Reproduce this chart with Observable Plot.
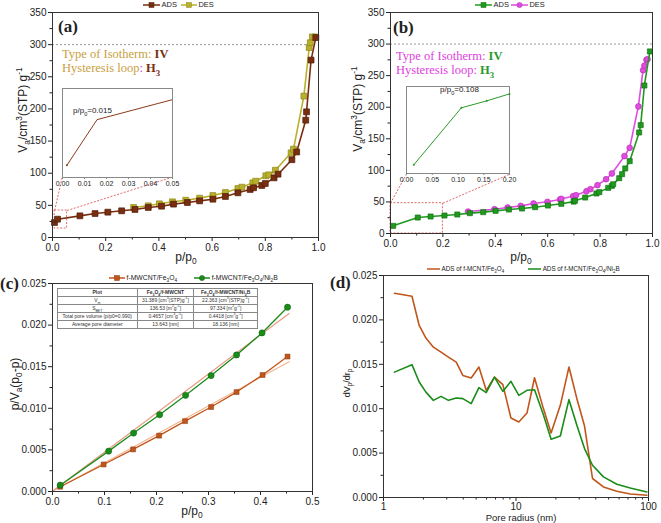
<!DOCTYPE html>
<html><head><meta charset="utf-8">
<script src="https://cdn.jsdelivr.net/npm/d3@7"></script>
<script src="https://cdn.jsdelivr.net/npm/@observablehq/plot@0.6"></script>
<style>
body{margin:0;background:#fff;}
#fig{position:relative;width:661px;height:523px;overflow:hidden;font-family:"Liberation Sans",Arial,sans-serif;color:#222;}
.ov{position:absolute;white-space:nowrap;line-height:1;}
.ser{font-family:"Liberation Serif","Times New Roman",serif;}
.tbl{position:absolute;border-collapse:collapse;background:#fff;font-family:"Liberation Sans",Arial,sans-serif;font-size:5px;color:#333;}
.tbl td{border:0.8px solid #888;padding:0;height:7px;text-align:center;line-height:1;}
sub,sup{font-size:70%;line-height:0;}
</style></head><body><div id="fig"></div>
<script>
// ---------- DATA ----------
// (a) f-MWCNT/Fe3O4 isotherm
const aAdsP = [0.0075,0.019,0.103,0.16,0.208,0.26,0.31,0.36,0.41,0.455,0.507,0.553,0.603,0.65,0.697,0.743,0.756,0.787,0.8,0.833,0.848,0.9,0.918,0.952,0.955,0.972,0.99];
const aAdsV = [23.3,28.5,33.7,37.3,39.4,41.5,43.6,46.7,48.7,51.9,54.4,57,59.6,63.8,69.5,74.7,77.3,80.9,84,92.8,98.5,121,133,182.5,195.5,276,311];
const aDesP = [0.305,0.36,0.402,0.451,0.501,0.553,0.603,0.65,0.697,0.712,0.753,0.764,0.802,0.813,0.838,0.897,0.906,0.945,0.965,0.969,0.977,0.987];
const aDesV = [46.7,49.3,52.4,55.5,58,61.2,65.3,70,76.2,78.3,85,87.6,96,97.5,104.7,131.7,137.4,220,295.5,303,312,312];
const aInsetP = [0.002,0.0157,0.05];
const aInsetV = [24.1,28.2,30.0];
// (b) f-MWCNT/Fe3O4/Ni2B isotherm
const bAdsP = [0.0102,0.104,0.153,0.206,0.255,0.303,0.354,0.401,0.452,0.502,0.552,0.601,0.652,0.699,0.704,0.743,0.786,0.797,0.831,0.845,0.85,0.873,0.884,0.896,0.913,0.949,0.955,0.969,0.99];
const bAdsV = [12.1,25.3,26.9,28.5,30.1,32.2,33.8,35.9,38,39.6,41.7,44.3,47,50.5,52,57,63.4,65.5,72.3,75.5,78,87.6,94,103,114.6,160,171.6,234.4,288.3];
const bDesP = [0.296,0.397,0.447,0.497,0.546,0.599,0.647,0.652,0.697,0.708,0.748,0.763,0.79,0.823,0.845,0.893,0.913,0.946,0.964,0.969,0.977,0.981];
const bDesV = [34.8,38.5,41.2,43.8,47.5,50.2,53.9,54.9,59.1,60.7,67,70.2,76.6,86,95,122.5,135.7,201.2,258.7,266,275,276];
const bInsetP = [0.0142,0.1065,0.156,0.2];
const bInsetV = [12.0,25.1,26.7,28.3];
// reference / zoom annotations (data units)
const refV = 300;
// (c) BET plots
const cFeP = [0.0148,0.0983,0.155,0.205,0.255,0.305,0.354,0.404,0.452];
const cFeY = [0.00057,0.00325,0.00506,0.00671,0.00846,0.01015,0.01195,0.0140,0.01622];
const cNiP = [0.0148,0.108,0.156,0.206,0.256,0.305,0.354,0.403,0.452];
const cNiY = [0.00076,0.00485,0.00702,0.00923,0.01156,0.01393,0.01641,0.01906,0.02215];
const cFitP = [0,0.455];
const cFeFit = [0.00002,0.0156];
const cNiFit = [0.00002,0.0214];
// (d) pore size distribution
const dR = [1.21,1.64,1.86,2.09,2.38,2.72,3.09,3.54,3.97,4.59,5.25,5.96,6.88,7.96,9.16,10.5,12.1,13.8,16.1,18.4,21.6,25.1,28.8,32.9,37.8,45.7,57.7,72.8,97.3];
const dFe = [0.0230,0.02267,0.01937,0.01795,0.01693,0.01637,0.01581,0.01525,0.01375,0.01345,0.01469,0.01207,0.01356,0.01271,0.00895,0.0085,0.00951,0.01349,0.01001,0.00726,0.01038,0.01469,0.01113,0.00805,0.00214,0.00119,0.00071,0.0004,0.00026];
const dNi = [0.01412,0.01496,0.013,0.01187,0.01094,0.01139,0.01094,0.0112,0.01113,0.01057,0.01237,0.01181,0.01356,0.01195,0.01308,0.0115,0.01207,0.01214,0.00933,0.00656,0.00693,0.01102,0.00813,0.00551,0.00363,0.00232,0.0015,0.00108,0.00063];
// tick values
const tickAx = [0,0.2,0.4,0.6,0.8,1.0], tickAxMinor = [0.1,0.3,0.5,0.7,0.9];
const tickAy = [0,50,100,150,200,250,300,350], tickAyMinor = [25,75,125,175,225,275,325];
const tickInA = [0,0.01,0.02,0.03,0.04,0.05];
const tickInB = [0,0.05,0.1,0.15,0.2];
const tickCx = [0,0.1,0.2,0.3,0.4,0.5], tickCxMinor = [0.05,0.15,0.25,0.35,0.45];
const tickCy = [0,0.005,0.01,0.015,0.02,0.025], tickCyMinor = [0.0025,0.0075,0.0125,0.0175,0.0225];
const tickDx = [1,10,100], tickDxMinor = [2,3,4,5,6,7,8,9,20,30,40,50,60,70,80,90];

// colours
const C = {aAds:"#7a2e10", aDes:"#b8b02c", bAds:"#1f9a1f", bDes:"#e04ce0",
           fe:"#c0561a", ni:"#1a8c1a", feFit:"#f2b48e", niFit:"#e89a86", red:"#e06a6a", ref:"#9a9a9a"};

const zip = (xs, ys) => xs.map((x,i)=>({x, y: ys[i]}));
const fig = document.getElementById("fig");
function place(node, left, top){ node.style.position="absolute"; node.style.left=left+"px"; node.style.top=top+"px"; fig.appendChild(node); }
function ov(left, top, inner, css=""){ const d=document.createElement("div"); d.className="ov"; d.style.cssText += `left:${left}px;top:${top}px;${css}`; d.innerHTML=inner; fig.appendChild(d); return d; }

const baseStyle = {fontSize:"10px", fontFamily:"'Liberation Sans', Arial, sans-serif", color:"#222", background:"transparent", overflow:"visible"};
function axes(xMaj, xMin, yMaj, yMin, xFmt, yFmt, xPad=2){
  return [
    Plot.axisX(xMin, {tickSize:2.5, tickFormat:()=>"", label:null}),
    Plot.axisX(xMaj, {tickSize:4, tickPadding:xPad, tickFormat:xFmt, label:null}),
    Plot.axisY(yMin, {tickSize:2.5, tickFormat:()=>"", label:null}),
    Plot.axisY(yMaj, {tickSize:4, tickPadding:2, tickFormat:yFmt, label:null}),
    Plot.frame({stroke:"#333", strokeWidth:1})
  ];
}
const f1 = d3.format(".1f"), f0 = d3.format("d"), f3 = d3.format(".3f"), f2 = d3.format(".2f");

// ---------- PANEL (a) ----------
const aAds = zip(aAdsP, aAdsV), aDes = zip(aDesP, aDesV);
const boxA = {x1:0.008, x2:0.055, y1:14, y2:42};
const linkA = [{x1:boxA.x1, y1:boxA.y2, x2:0.0365, y2:93.8},{x1:boxA.x2, y1:boxA.y2, x2:0.45, y2:93.8}];
place(Plot.plot({width:330, height:262, marginLeft:52, marginRight:12, marginTop:12, marginBottom:25,
  x:{domain:[0,1]}, y:{domain:[0,350]}, style:baseStyle,
  marks:[
    Plot.ruleY([refV], {x1:0, x2:0.975, stroke:C.ref, strokeDasharray:"2,2"}),
    Plot.rect([boxA], {x1:"x1", x2:"x2", y1:"y1", y2:"y2", fill:"none", stroke:C.red, strokeDasharray:"2,1.5"}),
    Plot.link(linkA, {x1:"x1", y1:"y1", x2:"x2", y2:"y2", stroke:C.red, strokeDasharray:"2,1.5"}),
    Plot.line(aDes, {x:"x", y:"y", stroke:C.aDes, strokeWidth:1.6}),
    Plot.dot(aDes, {x:"x", y:"y", symbol:"square", r:3.3, fill:C.aDes, stroke:"#8d8618", strokeWidth:0.7}),
    Plot.line(aAds, {x:"x", y:"y", stroke:C.aAds, strokeWidth:1.6}),
    Plot.dot(aAds, {x:"x", y:"y", symbol:"square", r:3.3, fill:C.aAds, stroke:"#4e1a06", strokeWidth:0.7}),
    ...axes(tickAx, tickAxMinor, tickAy, tickAyMinor, f1, f0)
  ]}), 0, 0);

// inset (a)
place(Plot.plot({width:126, height:103, marginLeft:8, marginRight:8, marginTop:1, marginBottom:13,
  x:{domain:[0,0.05]}, y:{domain:[23,31], axis:null}, style:{...baseStyle, fontSize:"7px"},
  marks:[
    Plot.frame({fill:"white", stroke:"#888"}),
    Plot.line(zip(aInsetP,aInsetV), {x:"x", y:"y", stroke:"#8b3a1a", strokeWidth:1, clip:true}),
    Plot.dot(zip(aInsetP,aInsetV).slice(0,1), {x:"x", y:"y", r:1, fill:"#8b3a1a"}),
    Plot.axisX(tickInA, {tickSize:2, tickPadding:1.5, tickFormat:f2, label:null, stroke:"#888"})
  ]}), 54, 87);

// ---------- PANEL (b) ----------
const bAds = zip(bAdsP, bAdsV), bDes = zip(bDesP, bDesV);
const boxB = {x1:0, x2:0.2, y1:0, y2:48};
const linkB = [{x1:boxB.x1, y1:boxB.y2, x2:0.061, y2:94},{x1:boxB.x2, y1:boxB.y2, x2:0.456, y2:94}];
place(Plot.plot({width:331, height:262, marginLeft:60, marginRight:9, marginTop:12, marginBottom:29,
  x:{domain:[0,1]}, y:{domain:[0,350]}, style:baseStyle,
  marks:[
    Plot.ruleY([refV], {x1:0, x2:1, stroke:C.ref, strokeDasharray:"2,2"}),
    Plot.rect([boxB], {x1:"x1", x2:"x2", y1:"y1", y2:"y2", fill:"none", stroke:C.red, strokeDasharray:"2,1.5"}),
    Plot.link(linkB, {x1:"x1", y1:"y1", x2:"x2", y2:"y2", stroke:C.red, strokeDasharray:"2,1.5"}),
    Plot.line(bDes, {x:"x", y:"y", stroke:C.bDes, strokeWidth:1.6}),
    Plot.dot(bDes, {x:"x", y:"y", r:2.9, fill:C.bDes, stroke:"#b02ab0", strokeWidth:0.6}),
    Plot.line(bAds, {x:"x", y:"y", stroke:C.bAds, strokeWidth:1.6}),
    Plot.dot(bAds, {x:"x", y:"y", symbol:"square", r:2.9, fill:C.bAds, stroke:"#0f6a0f", strokeWidth:0.6}),
    ...axes(tickAx, tickAxMinor, tickAy, tickAyMinor, f1, f0)
  ]}), 330, 0);

// inset (b)
place(Plot.plot({width:119, height:101, marginLeft:8, marginRight:8, marginTop:1, marginBottom:13,
  x:{domain:[0,0.2]}, y:{domain:[10,30], axis:null}, style:{...baseStyle, fontSize:"7px"},
  marks:[
    Plot.frame({fill:"white", stroke:"#888"}),
    Plot.line(zip(bInsetP,bInsetV), {x:"x", y:"y", stroke:"#2a9a2a", strokeWidth:1}),
    Plot.dot(zip(bInsetP,bInsetV), {x:"x", y:"y", r:1, fill:"#2a9a2a"}),
    Plot.axisX(tickInB, {tickSize:2, tickPadding:1.5, tickFormat:f2, label:null, stroke:"#888"})
  ]}), 398, 85);

// ---------- PANEL (c) ----------
const cFe = zip(cFeP, cFeY), cNi = zip(cNiP, cNiY);
place(Plot.plot({width:330, height:261, marginLeft:52, marginRight:18, marginTop:21, marginBottom:32,
  x:{domain:[0,0.5]}, y:{domain:[0,0.025]}, style:baseStyle,
  marks:[
    Plot.line(zip(cFitP,cFeFit), {x:"x", y:"y", stroke:C.feFit, strokeWidth:1.2}),
    Plot.line(zip(cFitP,cNiFit), {x:"x", y:"y", stroke:C.niFit, strokeWidth:1.2}),
    Plot.line(cFe, {x:"x", y:"y", stroke:C.fe, strokeWidth:1.3}),
    Plot.dot(cFe, {x:"x", y:"y", symbol:"square", r:2.8, fill:C.fe, stroke:"#8a3a10", strokeWidth:0.5}),
    Plot.line(cNi, {x:"x", y:"y", stroke:C.ni, strokeWidth:1.3}),
    Plot.dot(cNi, {x:"x", y:"y", r:3.1, fill:C.ni, stroke:"#0d5e0d", strokeWidth:0.5}),
    ...axes(tickCx, tickCxMinor, tickCy, tickCyMinor, f1, f3)
  ]}), 0, 262);

// ---------- PANEL (d) ----------
place(Plot.plot({width:331, height:261, marginLeft:53, marginRight:13, marginTop:13, marginBottom:26,
  x:{type:"log", domain:[1,100]}, y:{domain:[0,0.025]}, style:baseStyle,
  marks:[
    Plot.line(zip(dR,dFe), {x:"x", y:"y", stroke:C.fe, strokeWidth:1.6}),
    Plot.line(zip(dR,dNi), {x:"x", y:"y", stroke:C.ni, strokeWidth:1.6}),
    ...axes(tickDx, tickDxMinor, tickCy, tickCyMinor, f0, f3, 1)
  ]}), 330, 262);

// ---------- TEXT OVERLAYS ----------
const cen = "transform:translate(-50%,-50%);";
const rot = "transform:translate(-50%,-50%) rotate(-90deg);";
// axis titles
ov(186, 257, "p/p<sub>0</sub>", cen+"font-size:12px;");
ov(521, 257, "p/p<sub>0</sub>", cen+"font-size:12px;");
ov(192, 511, "p/p<sub>0</sub>", cen+"font-size:12px;");
ov(521, 517.5, "Pore radius (nm)", cen+"font-size:9.5px;");
ov(23, 110, "V<sub>a</sub>/cm<sup>3</sup>(STP) g<sup>-1</sup>", rot+"font-size:12px;");
ov(358, 109, "V<sub>a</sub>/cm<sup>3</sup>(STP) g<sup>-1</sup>", rot+"font-size:12px;");
ov(15, 384, "p/V<sub>a</sub>(p<sub>0</sub>-p)", rot+"font-size:12px;");
ov(347, 383, "dV<sub>p</sub>/dr<sub>p</sub>", rot+"font-size:9px;");
// panel letters
const pl = "font-weight:bold;font-size:17px;";
ov(58, 18, "(a)", pl).classList.add("ser");
ov(393, 19, "(b)", pl).classList.add("ser");
ov(0, 275, "(c)", pl).classList.add("ser");
ov(330, 274, "(d)", pl).classList.add("ser");
// isotherm annotations
ov(62, 48, `<span style="color:#c8a040">Type of Isotherm: </span><b style="color:${C.aAds}">IV</b>`, "font-size:12.5px;").classList.add("ser");
ov(62, 62, `<span style="color:#c8a040">Hysteresis loop</span><span style="color:#d040d0">:</span> <b style="color:${C.aAds}">H<sub>3</sub></b>`, "font-size:12.5px;").classList.add("ser");
ov(396, 50, `<span style="color:#e040e0">Type of Isotherm: </span><b style="color:#2a9a2a">IV</b>`, "font-size:12.5px;").classList.add("ser");
ov(396, 64, `<span style="color:#e040e0">Hysteresis loop: </span><b style="color:#2a9a2a">H<sub>3</sub></b>`, "font-size:12.5px;").classList.add("ser");
// inset labels
ov(73, 107, "p/p<sub>0</sub>=0.015", "font-size:8px;");
ov(440, 86, "p/p<sub>0</sub>=0.108", "font-size:8px;");

// legends
function swatch(len, color, sym, stroke){
  const m = sym==="square" ? `<rect x="${len/2-2.5}" y="1.5" width="5" height="5" fill="${color}" stroke="${stroke}" stroke-width="0.5"/>`
          : sym==="circle" ? `<circle cx="${len/2}" cy="4" r="2.6" fill="${color}" stroke="${stroke}" stroke-width="0.5"/>` : "";
  return `<svg width="${len}" height="8" style="vertical-align:middle"><line x1="0" x2="${len}" y1="4" y2="4" stroke="${color}" stroke-width="1.5"/>${m}</svg>`;
}
function legend(left, top, items, fs){
  ov(left, top, items.map(it=>`<span style="display:inline-flex;align-items:center;margin-right:${it.gap}px">${swatch(it.len,it.color,it.sym,it.stroke)}<span style="margin-left:1.5px">${it.label}</span></span>`).join(""), `font-size:${fs}px;display:flex;align-items:center;height:8px;transform:translateY(-50%);`);
}
legend(143, 5, [{len:17,color:C.aAds,sym:"square",stroke:"#4e1a06",label:"ADS",gap:4},{len:16,color:C.aDes,sym:"square",stroke:"#8d8618",label:"DES",gap:0}], 7.5);
legend(475, 5, [{len:17,color:C.bAds,sym:"square",stroke:"#0f6a0f",label:"ADS",gap:2},{len:17,color:C.bDes,sym:"circle",stroke:"#b02ab0",label:"DES",gap:0}], 7.5);
legend(109, 278, [{len:16,color:C.fe,sym:"square",stroke:"#8a3a10",label:"f-MWCNT/Fe<sub>3</sub>O<sub>4</sub>",gap:17},{len:16,color:C.ni,sym:"circle",stroke:"#0d5e0d",label:"f-MWCNT/Fe<sub>3</sub>O<sub>4</sub>/Ni<sub>2</sub>B",gap:0}], 6.8);
legend(427, 269, [{len:13,color:C.fe,sym:"",label:"ADS of f-MCNT/Fe<sub>3</sub>O<sub>4</sub>",gap:24},{len:13,color:C.ni,sym:"",label:"ADS of f-MCNT/Fe<sub>3</sub>O<sub>4</sub>/Ni<sub>2</sub>B",gap:0}], 6.3);

// table in (c)
const tblRows = [
  ["<b>Plot</b>", "<b>Fe<sub>3</sub>O<sub>4</sub>/f-MWCNT</b>", "<b>Fe<sub>3</sub>O<sub>4</sub>/f-MWCNT/Ni<sub>2</sub>B</b>"],
  ["V<sub>m</sub>", "31.389 [cm<sup>3</sup>(STP)g<sup>-1</sup>]", "22.363 [cm<sup>3</sup>(STP)g<sup>-1</sup>]"],
  ["S<sub>BET</sub>", "136.53 [m<sup>2</sup>g<sup>-1</sup>]", "97.334 [m<sup>2</sup>g<sup>-1</sup>]"],
  ["Total pore volume (p/p0=0.990)", "0.4657 [cm<sup>3</sup>g<sup>-1</sup>]", "0.4418 [cm<sup>3</sup>g<sup>-1</sup>]"],
  ["Average pore diameter", "13.643 [nm]", "18.136 [nm]"]
];
const t = document.createElement("table"); t.className="tbl";
t.style.cssText += "left:57px;top:288px;width:201px;";
t.innerHTML = `<colgroup><col style="width:80px"><col style="width:57px"><col style="width:64px"></colgroup>` + tblRows.map(r=>"<tr>"+r.map(c=>`<td>${c}</td>`).join("")+"</tr>").join("");
fig.appendChild(t);
</script></body></html>
